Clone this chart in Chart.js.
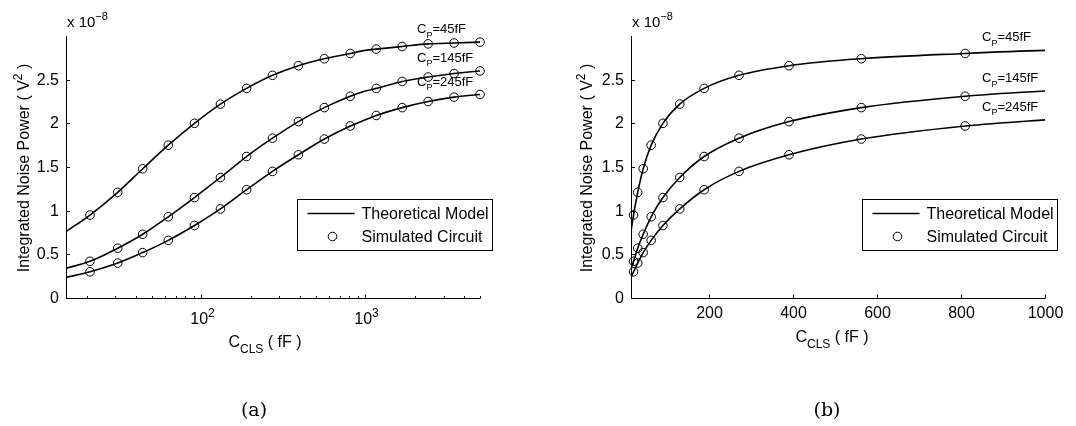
<!DOCTYPE html>
<html>
<head>
<meta charset="utf-8">
<script src="https://cdn.jsdelivr.net/npm/chart.js@4.4.0/dist/chart.umd.min.js"></script>
<style>
  html, body { margin: 0; padding: 0; background: #fff; }
  #wrap { position: relative; width: 1076px; height: 426px; }
  .panel { position: absolute; top: 0; width: 538px; height: 426px; }
</style>
</head>
<body>
<div id="wrap">
  <div class="panel" style="left:0"><canvas id="chartA"></canvas></div>
  <div class="panel" style="left:538px"><canvas id="chartB"></canvas></div>
</div>
<script>
// C_CLS of the simulated circuit points (fF)
const clsPoints = [21, 31, 44, 63, 91, 131, 189, 272, 391, 563, 810, 1166, 1678, 2415, 3475, 5000];
// simulated noise power, x 1e-8 V^2
const sim45  = [0.95, 1.21, 1.48, 1.75, 2.00, 2.22, 2.40, 2.55, 2.66, 2.74, 2.80, 2.85, 2.88, 2.91, 2.92, 2.93];
const sim145 = [0.42, 0.57, 0.73, 0.93, 1.15, 1.38, 1.62, 1.83, 2.02, 2.18, 2.31, 2.40, 2.48, 2.53, 2.57, 2.60];
const sim245 = [0.30, 0.40, 0.52, 0.66, 0.83, 1.02, 1.24, 1.45, 1.64, 1.82, 1.97, 2.09, 2.18, 2.25, 2.30, 2.33];

// theoretical model (includes the axis ends)
const modelCls = [15, 21, 31, 44, 63, 91, 131, 189, 272, 391, 563, 810, 1000, 1166, 1678, 2415, 3475, 5000];
const model45  = [0.76, 0.95, 1.21, 1.48, 1.75, 2.00, 2.22, 2.40, 2.55, 2.66, 2.74, 2.80, 2.835, 2.85, 2.88, 2.91, 2.92, 2.93];
const model145 = [0.34, 0.42, 0.57, 0.73, 0.93, 1.15, 1.38, 1.62, 1.83, 2.02, 2.18, 2.31, 2.37, 2.40, 2.48, 2.53, 2.57, 2.60];
const model245 = [0.235, 0.30, 0.40, 0.52, 0.66, 0.83, 1.02, 1.24, 1.45, 1.64, 1.82, 1.97, 2.04, 2.09, 2.18, 2.25, 2.30, 2.33];

const curveNames = ['45fF', '145fF', '245fF'];

// ticks
const yTicks = [0, 0.5, 1, 1.5, 2, 2.5];
const logMajor = [100, 1000];
const logMajorExp = ['2', '3'];
const logMinor = [20, 30, 40, 50, 60, 70, 80, 90, 200, 300, 400, 500, 600, 700, 800, 900, 2000, 3000, 4000, 5000];
const linTicks = [200, 400, 600, 800, 1000];

const FONT = '"Liberation Sans", Arial, sans-serif';

function pairs(xs, ys, maxX) {
  const out = [];
  xs.forEach((x, i) => { if (x <= maxX) out.push({ x: x, y: ys[i] }); });
  return out;
}

// draws text made of pieces, some raised (sup) or lowered (sub)
function drawRich(ctx, parts, x, y, size, align) {
  const small = Math.round(size * 0.72);
  let w = 0;
  parts.forEach(p => {
    ctx.font = (p.s ? small : size) + 'px ' + FONT;
    w += ctx.measureText(p.t).width;
  });
  let cx = x;
  if (align === 'center') cx = x - w / 2;
  if (align === 'right') cx = x - w;
  ctx.textAlign = 'left';
  ctx.textBaseline = 'alphabetic';
  parts.forEach(p => {
    ctx.font = (p.s ? small : size) + 'px ' + FONT;
    let dy = 0;
    if (p.s === 'sub') dy = size * 0.35;
    if (p.s === 'sup') dy = -size * 0.45;
    ctx.fillText(p.t, cx, y + dy);
    cx += ctx.measureText(p.t).width;
  });
  return w;
}

function decorations(opts) {
  return {
    id: 'matlabAxes',
    afterDraw(chart) {
      const ctx = chart.ctx;
      const a = chart.chartArea;
      const xs = chart.scales.x, ys = chart.scales.y;
      ctx.save();
      ctx.strokeStyle = '#000';
      ctx.fillStyle = '#000';
      ctx.lineWidth = 1;

      // axis lines
      ctx.beginPath();
      ctx.moveTo(Math.round(a.left) + 0.5, a.top);
      ctx.lineTo(Math.round(a.left) + 0.5, Math.round(a.bottom) + 0.5);
      ctx.lineTo(a.right, Math.round(a.bottom) + 0.5);
      ctx.stroke();

      // y ticks
      ctx.font = '16px ' + FONT;
      ctx.textAlign = 'right';
      ctx.textBaseline = 'middle';
      yTicks.forEach(v => {
        const py = Math.round(ys.getPixelForValue(v)) + 0.5;
        ctx.beginPath();
        ctx.moveTo(a.left, py);
        ctx.lineTo(a.left + 4, py);
        ctx.stroke();
        ctx.fillText(String(v), a.left - 7, py);
      });

      const by = Math.round(a.bottom) + 0.5;
      if (opts.log) {
        logMinor.forEach(v => {
          const px = Math.round(xs.getPixelForValue(v)) + 0.5;
          ctx.beginPath();
          ctx.moveTo(px, by);
          ctx.lineTo(px, by - 2.5);
          ctx.stroke();
        });
        logMajor.forEach((v, i) => {
          const px = Math.round(xs.getPixelForValue(v)) + 0.5;
          ctx.beginPath();
          ctx.moveTo(px, by);
          ctx.lineTo(px, by - 4);
          ctx.stroke();
          drawRich(ctx, [{ t: '10' }, { t: logMajorExp[i], s: 'sup' }], px + 1, a.bottom + 26, 16, 'center');
        });
      } else {
        ctx.font = '16px ' + FONT;
        ctx.textAlign = 'center';
        ctx.textBaseline = 'alphabetic';
        linTicks.forEach(v => {
          const px = Math.round(xs.getPixelForValue(v)) + 0.5;
          ctx.beginPath();
          ctx.moveTo(px, by);
          ctx.lineTo(px, by - 4);
          ctx.stroke();
          ctx.fillText(String(v), px, a.bottom + 20);
        });
      }

      // exponent above the y axis
      drawRich(ctx, [{ t: 'x 10' }, { t: '\u22128', s: 'sup' }], a.left + 1, a.top - 9, 15, 'left');

      // x title
      drawRich(ctx, [{ t: 'C' }, { t: 'CLS', s: 'sub' }, { t: ' ( fF )' }],
        (a.left + a.right) / 2 + opts.xTitleShift, a.bottom + (opts.log ? 49 : 44), 16, 'center');

      // y title
      ctx.save();
      ctx.translate(opts.yTitleX, (a.top + a.bottom) / 2 + 1);
      ctx.rotate(-Math.PI / 2);
      drawRich(ctx, [{ t: 'Integrated Noise Power ( V' }, { t: '2', s: 'sup' }, { t: ' )' }], 0, 6, 16, 'center');
      ctx.restore();

      // curve labels
      const ends = opts.ends;
      curveNames.forEach((n, i) => {
        const py = ys.getPixelForValue(ends[i]);
        drawRich(ctx, [{ t: 'C' }, { t: 'P', s: 'sub' }, { t: '=' + n }], a.right - 63, py - 9, 13, 'left');
      });

      // legend
      const bx = Math.round(a.right + 12 - 195) + 0.5, bt = 199.5, bw = 195, bh = 51;
      ctx.fillStyle = '#fff';
      ctx.fillRect(bx, bt, bw, bh);
      ctx.strokeRect(bx, bt, bw, bh);
      ctx.fillStyle = '#000';
      ctx.lineWidth = 1.5;
      ctx.beginPath();
      ctx.moveTo(bx + 10, bt + 14);
      ctx.lineTo(bx + 57, bt + 14);
      ctx.stroke();
      ctx.lineWidth = 1;
      ctx.beginPath();
      ctx.arc(bx + 35, bt + 37, 4.3, 0, Math.PI * 2);
      ctx.stroke();
      ctx.font = '16px ' + FONT;
      ctx.textAlign = 'left';
      ctx.textBaseline = 'middle';
      ctx.fillText(chart.data.datasets[0].label, bx + 64, bt + 15);
      ctx.fillText(chart.data.datasets[3].label, bx + 64, bt + 38);

      // caption
      ctx.font = '19px "DejaVu Serif", "Liberation Serif", serif';
      ctx.textAlign = 'center';
      ctx.textBaseline = 'middle';
      ctx.fillText(opts.caption, opts.captionX, 411);
      ctx.restore();
    }
  };
}

function makeChart(id, opts) {
  const maxX = opts.log ? 5000 : 1000;
  const lineDs = (ys, label) => ({
    label: label,
    data: pairs(modelCls, ys, 5000),
    showLine: true,
    borderColor: '#000',
    borderWidth: 1.6,
    pointRadius: 0,
    cubicInterpolationMode: 'monotone',
    fill: false
  });
  const circleDs = (ys, label) => ({
    label: label,
    data: pairs(clsPoints, ys, maxX),
    showLine: false,
    pointRadius: 4.3,
    pointBorderWidth: 1,
    pointBorderColor: '#000',
    pointBackgroundColor: 'rgba(0,0,0,0)',
    clip: false
  });
  return new Chart(document.getElementById(id), {
    type: 'line',
    data: {
      datasets: [
        lineDs(model45, 'Theoretical Model'),
        lineDs(model145, 'Theoretical Model'),
        lineDs(model245, 'Theoretical Model'),
        circleDs(sim45, 'Simulated Circuit'),
        circleDs(sim145, 'Simulated Circuit'),
        circleDs(sim245, 'Simulated Circuit')
      ]
    },
    options: {
      responsive: false,
      animation: false,
      events: [],
      layout: { padding: opts.padding },
      plugins: { legend: { display: false }, tooltip: { enabled: false } },
      scales: {
        x: { type: opts.log ? 'logarithmic' : 'linear', min: 15, max: maxX, display: false },
        y: { type: 'linear', min: 0, max: 3, display: false }
      }
    },
    plugins: [decorations(opts)]
  });
}

document.getElementById('chartA').width = 538;
document.getElementById('chartA').height = 426;
document.getElementById('chartB').width = 538;
document.getElementById('chartB').height = 426;

makeChart('chartA', {
  log: true,
  padding: { left: 66, right: 58, top: 36, bottom: 128 },
  yTitleX: 23,
  xTitleShift: -8,
  ends: [model45[17], model145[17], model245[17]],
  caption: '(a)',
  captionX: 254
});

makeChart('chartB', {
  log: false,
  padding: { left: 93, right: 31, top: 36, bottom: 128 },
  yTitleX: 48,
  xTitleShift: -6,
  ends: [model45[12], model145[12], model245[12]],
  caption: '(b)',
  captionX: 289
});
</script>
</body>
</html>
